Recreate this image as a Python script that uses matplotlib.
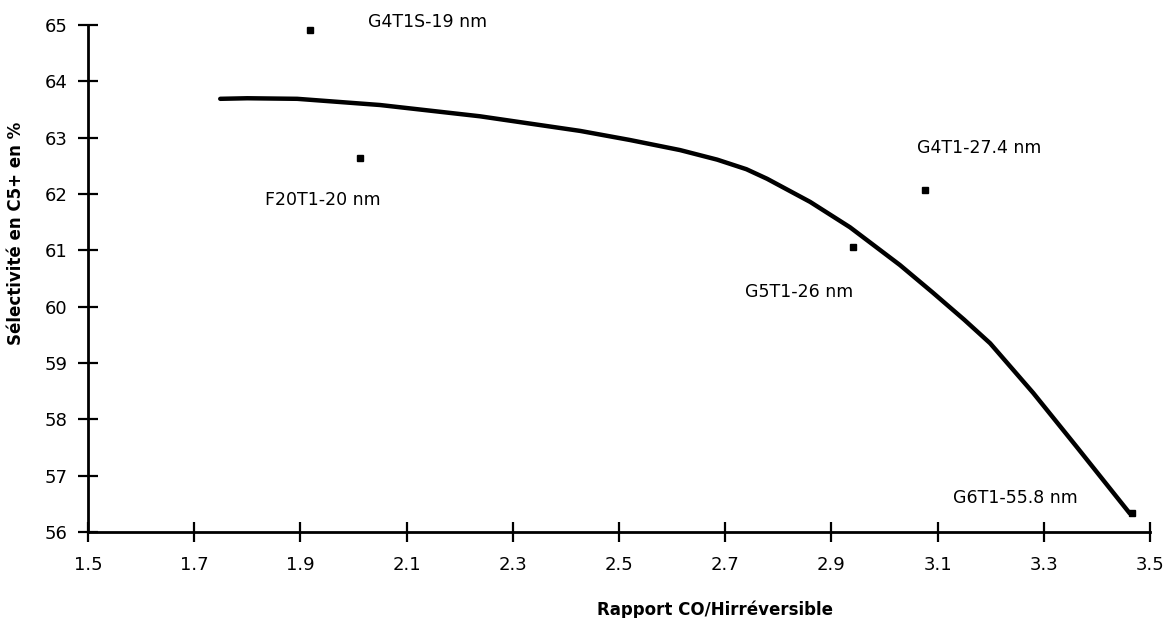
import matplotlib.pyplot as plt

# points mesures (rapport CO/H irreversible, selectivite C5+)
pts_x = [1.918, 2.012, 2.94, 3.076, 3.466]
pts_y = [64.91, 62.64, 61.06, 62.07, 56.33]
noms = ['G4T1S-19 nm', 'F20T1-20 nm', 'G5T1-26 nm', 'G4T1-27.4 nm', 'G6T1-55.8 nm']
# position des etiquettes
lab_x = [2.027, 1.833, 2.737, 3.061, 3.129]
lab_y = [65.05, 61.89, 60.26, 62.82, 56.60]

# courbe de tendance
courbe_x = [1.749, 1.80, 1.894, 2.05, 2.238, 2.427, 2.52, 2.615, 2.685, 2.74, 2.779,
            2.86, 2.935, 3.029, 3.091, 3.15, 3.199, 3.28, 3.363, 3.462]
courbe_y = [63.69, 63.70, 63.69, 63.58, 63.38, 63.12, 62.96, 62.78, 62.61, 62.44, 62.27,
            61.86, 61.41, 60.74, 60.25, 59.77, 59.35, 58.47, 57.50, 56.33]

xticks = [1.5, 1.7, 1.9, 2.1, 2.3, 2.5, 2.7, 2.9, 3.1, 3.3, 3.5]
yticks = [56, 57, 58, 59, 60, 61, 62, 63, 64, 65]

plt.rcParams['font.family'] = ['DejaVu Sans']

fig = plt.figure(figsize=(11.69, 6.18), dpi=100)
ax = fig.add_axes([0.0753, 0.1392, 0.9084, 0.8203])

ax.plot(courbe_x, courbe_y, color='black', lw=3.2, solid_capstyle='round',
        solid_joinstyle='round', clip_on=False)
ax.plot(pts_x, pts_y, 's', color='black', markersize=5, clip_on=False)

for n, tx, ty in zip(noms, lab_x, lab_y):
    ax.text(tx, ty, n, fontsize=12.5, va='center', ha='left', clip_on=False)

ax.set_xlim(1.5, 3.5)
ax.set_ylim(56, 65)
ax.set_xticks(xticks)
ax.set_xticklabels([str(t) for t in xticks])
ax.set_yticks(yticks)

for s in ['top', 'right']:
    ax.spines[s].set_visible(False)
for s in ['left', 'bottom']:
    ax.spines[s].set_linewidth(2)

ax.tick_params(axis='both', direction='inout', length=14, width=1.6, labelsize=13)
ax.tick_params(axis='x', pad=10)
ax.tick_params(axis='y', pad=8)

ax.set_xlabel('Rapport CO/Hirréversible', fontsize=12, fontweight='bold')
ax.xaxis.set_label_coords(0.59, -0.135)
ax.set_ylabel('Sélectivité en C5+ en %', fontsize=12, fontweight='bold')
ax.yaxis.set_label_coords(-0.059, 0.59)

fig.savefig('out.png', dpi=100)
